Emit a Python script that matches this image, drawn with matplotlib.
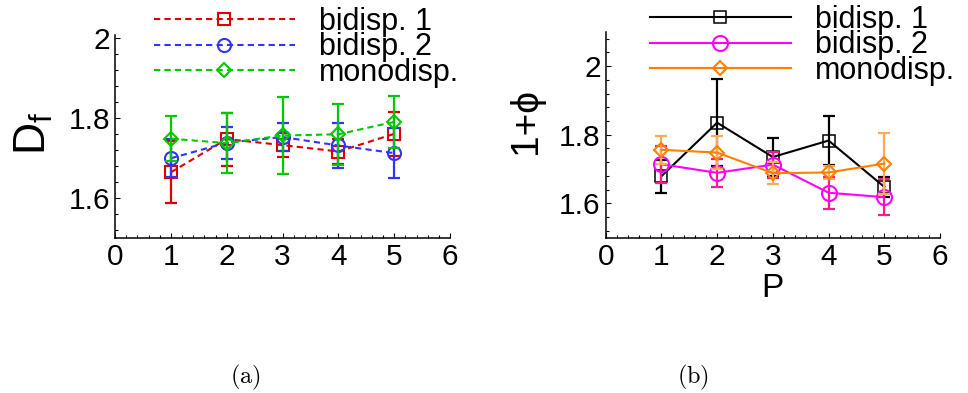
import matplotlib.pyplot as plt
from matplotlib.ticker import MultipleLocator

plt.rcParams['font.family'] = ['Liberation Sans', 'DejaVu Sans']

P = [1, 2, 3, 4, 5]
labels = ["bidisp. 1", "bidisp. 2", "monodisp."]

# (a) fractal dimension D_f
df_bi1 = [1.664, 1.747, 1.732, 1.716, 1.760]
df_bi1_err = [0.077, 0.066, 0.030, 0.031, 0.054]
df_bi2 = [1.699, 1.738, 1.752, 1.731, 1.712]
df_bi2_err = [0.047, 0.040, 0.035, 0.057, 0.062]
df_mono = [1.748, 1.737, 1.756, 1.759, 1.790]
df_mono_err = [0.056, 0.075, 0.095, 0.076, 0.064]

# (b) 1 + phi
phi_bi1 = [1.679, 1.835, 1.735, 1.783, 1.648]
phi_bi1_err = [0.048, 0.126, 0.056, 0.072, 0.030]
phi_bi2 = [1.714, 1.689, 1.713, 1.631, 1.618]
phi_bi2_err = [0.054, 0.041, 0.038, 0.046, 0.052]
phi_mono = [1.756, 1.748, 1.688, 1.690, 1.716]
phi_mono_err = [0.041, 0.049, 0.033, 0.020, 0.090]

fig = plt.figure(figsize=(9.68, 3.93), dpi=100)
ax1 = fig.add_axes([0.1188, 0.3944, 0.3461, 0.5166])
ax2 = fig.add_axes([0.6257, 0.3952, 0.3454, 0.5240])


def style_axes(ax, ytop):
    ax.set_xlim(0, 6)
    ax.set_ylim(1.5, ytop)
    ax.xaxis.set_major_locator(MultipleLocator(1))
    ax.xaxis.set_minor_locator(MultipleLocator(0.2))
    ax.yaxis.set_major_locator(MultipleLocator(0.2))
    ax.yaxis.set_minor_locator(MultipleLocator(0.04))
    ax.yaxis.set_major_formatter(lambda v, pos: ("%.1f" % v).rstrip("0").rstrip("."))
    ax.spines["top"].set_visible(False)
    ax.spines["right"].set_visible(False)
    for s in ("left", "bottom"):
        ax.spines[s].set_linewidth(1.1)
    ax.tick_params(which="both", direction="in", width=0.8, labelsize=21.5, pad=3.6)
    ax.tick_params(which="major", length=3.6)
    ax.tick_params(which="minor", length=2.2)
    ax.patch.set_alpha(0)


legend_kw = dict(bbox_transform=fig.transFigure, loc="upper left", frameon=False,
                 fontsize=22, handlelength=4.6, handletextpad=0.8, labelspacing=-0.15,
                 borderpad=0, borderaxespad=0, numpoints=1)

# panel (a): dashed lines
series_a = [
    (df_bi1, df_bi1_err, "#dd0000", "s", 8.6),
    (df_bi2, df_bi2_err, "#3333ff", "o", 9.4),
    (df_mono, df_mono_err, "#00c800", "D", 7.6),
]
for (y, e, c, m, ms), lab in zip(series_a, labels):
    ax1.errorbar(P, y, yerr=e, fmt="none", ecolor=c, elinewidth=1.6, capsize=4.3, capthick=1.6)
    ax1.plot(P, y, color=c, ls=(0, (3, 2)), lw=1.5, marker=m, ms=ms,
             mfc="none", mec=c, mew=1.5, label=lab)
style_axes(ax1, 2.007)
ax1.set_ylabel(r"D$_\mathregular{f}$", fontsize=32)
ax1.yaxis.set_label_coords(-0.18, 0.517)
ax1.legend(bbox_to_anchor=(154 / 968, 1 - 7 / 393), **legend_kw)

# panel (b): solid lines, lighter error bars
series_b = [
    (phi_bi1, phi_bi1_err, "black", "black", "s", 8.0, 1.1),
    (phi_bi2, phi_bi2_err, "#ff00ff", "#ff1a8c", "o", 10.8, 1.5),
    (phi_mono, phi_mono_err, "#ff8000", "#ffaa55", "D", 7.6, 1.5),
]
for (y, e, c, ec, m, ms, mew), lab in zip(series_b, labels):
    ax2.errorbar(P, y, yerr=e, fmt="none", ecolor=ec, elinewidth=1.6, capsize=4.3, capthick=1.6)
    ax2.plot(P, y, color=c, ls="-", lw=1.5, marker=m, ms=ms,
             mfc="none", mec=c, mew=mew, label=lab)
style_axes(ax2, 2.1)
ax2.set_ylabel("1+ϕ", fontsize=28)
ax2.yaxis.set_label_coords(-0.185, 0.566)
ax2.set_xlabel("P", fontsize=24)
ax2.xaxis.set_label_coords(0.5, -0.172)
ax2.legend(bbox_to_anchor=(650 / 968, 1 - 5 / 393), **legend_kw)

fig.text(245 / 968, 1 - 377 / 393, r"$\mathrm{(a)}$", math_fontfamily="cm",
         fontsize=17.5, ha="center", va="center")
fig.text(693 / 968, 1 - 377 / 393, r"$\mathrm{(b)}$", math_fontfamily="cm",
         fontsize=17.5, ha="center", va="center")

fig.savefig("out.png", dpi=100)
